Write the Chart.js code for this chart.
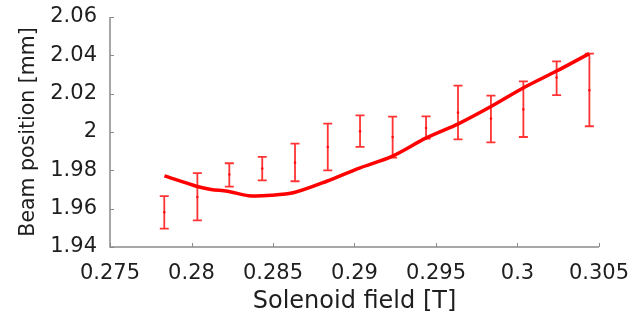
<!DOCTYPE html>
<html>
<head>
<meta charset="utf-8">
<script src="https://cdn.jsdelivr.net/npm/chart.js@4"></script>
<style>
  html, body { margin: 0; padding: 0; background: #fff; }
  #wrap { width: 636px; height: 324px; }
</style>
</head>
<body>
<div id="wrap"><canvas id="chart" width="636" height="324"></canvas></div>
<script>
// measured points with error bars
const fieldT = [0.27833, 0.28036, 0.28232, 0.28434, 0.28635, 0.28836, 0.29034, 0.29234, 0.29439, 0.29635, 0.29837, 0.30036, 0.30240, 0.30441];
const meanPos = [1.9581, 1.9661, 1.9778, 1.9809, 1.9840, 1.9922, 2.0004, 1.9974, 2.0021, 2.0101, 2.0070, 2.0118, 2.0284, 2.0218];
const errLow  = [1.9496, 1.9539, 1.9715, 1.9748, 1.9743, 1.9800, 1.9922, 1.9866, 1.9965, 1.9962, 1.9946, 1.9974, 2.0192, 2.0030];
const errHigh = [1.9665, 1.9785, 1.9837, 1.9870, 1.9939, 2.0044, 2.0087, 2.0080, 2.0082, 2.0242, 2.0190, 2.0264, 2.0369, 2.0409];

// fitted curve
const fitField = [0.27834, 0.2803, 0.2812, 0.2822, 0.2835, 0.2849, 0.2863, 0.2883, 0.2903, 0.2923, 0.2944, 0.2964, 0.2984, 0.3004, 0.3024, 0.3044];
const fitPos   = [1.9771, 1.9717, 1.9700, 1.9691, 1.9668, 1.9670, 1.9684, 1.9743, 1.9812, 1.9873, 1.9969, 2.0044, 2.0134, 2.0232, 2.0318, 2.0409];

const xTicks = [0.275, 0.28, 0.285, 0.29, 0.295, 0.3, 0.305];
const yTicks = [1.94, 1.96, 1.98, 2, 2.02, 2.04, 2.06];

const AXIS_COLOR = '#8a8a8a';
const TEXT_COLOR = '#1e1e1e';
const FONT = 'DejaVu Sans';

const fmt = v => String(parseFloat(Number(v).toFixed(4)));

// error bars (drawn under the line)
const errorBars = {
    id: 'errorBars',
    beforeDatasetsDraw(chart) {
        const { ctx, scales: { x, y } } = chart;
        ctx.save();
        ctx.strokeStyle = 'rgba(255,0,0,0.8)';
        ctx.lineWidth = 1.8;
        const cap = 4.5;
        fieldT.forEach((f, i) => {
            const px = x.getPixelForValue(f);
            const lo = y.getPixelForValue(errLow[i]);
            const hi = y.getPixelForValue(errHigh[i]);
            ctx.beginPath();
            ctx.moveTo(px, lo); ctx.lineTo(px, hi);
            ctx.moveTo(px - cap, lo); ctx.lineTo(px + cap, lo);
            ctx.moveTo(px - cap, hi); ctx.lineTo(px + cap, hi);
            ctx.stroke();
        });
        ctx.restore();
    }
};

// axis lines with inward tick marks
const axesBox = {
    id: 'axesBox',
    afterDraw(chart) {
        const { ctx, chartArea: a, scales: { x, y } } = chart;
        ctx.save();
        ctx.strokeStyle = AXIS_COLOR;
        ctx.lineWidth = 1.5;
        ctx.beginPath();
        ctx.moveTo(a.left, a.top); ctx.lineTo(a.left, a.bottom); ctx.lineTo(a.right, a.bottom);
        ctx.stroke();
        ctx.lineWidth = 1;
        ctx.beginPath();
        x.ticks.forEach(t => {
            const px = Math.round(x.getPixelForValue(t.value)) + 0.5;
            ctx.moveTo(px, a.bottom); ctx.lineTo(px, a.bottom - 4);
        });
        y.ticks.forEach(t => {
            const py = Math.round(y.getPixelForValue(t.value)) + 0.5;
            ctx.moveTo(a.left, py); ctx.lineTo(a.left + 4, py);
        });
        ctx.stroke();
        ctx.restore();
    }
};

new Chart(document.getElementById('chart'), {
    type: 'scatter',
    data: {
        datasets: [
            {
                label: 'fit',
                data: fitField.map((f, i) => ({ x: f, y: fitPos[i] })),
                showLine: true,
                borderColor: '#ff0000',
                borderWidth: 3.5,
                pointRadius: 0,
                tension: 0.3,
                order: 1
            },
            {
                label: 'measured',
                data: fieldT.map((f, i) => ({ x: f, y: meanPos[i] })),
                pointRadius: 1.3,
                pointBackgroundColor: 'rgba(255,0,0,0.8)',
                pointBorderWidth: 0,
                order: 2
            }
        ]
    },
    options: {
        responsive: false,
        animation: false,
        layout: { padding: { left: 0, right: 37, top: 17, bottom: 0 } },
        plugins: { legend: { display: false }, tooltip: { enabled: false } },
        scales: {
            x: {
                type: 'linear',
                min: 0.275,
                max: 0.305,
                afterBuildTicks: s => { s.ticks = xTicks.map(v => ({ value: v })); },
                afterFit: s => { s.height = 77; s.paddingLeft = 0; s.paddingRight = 0; },
                grid: { display: false, drawTicks: false },
                border: { display: false },
                ticks: {
                    padding: 14,
                    color: TEXT_COLOR,
                    font: { family: FONT, size: 21 },
                    maxRotation: 0,
                    callback: fmt
                },
                title: {
                    display: true,
                    text: 'Solenoid field [T]',
                    color: TEXT_COLOR,
                    font: { family: FONT, size: 24 },
                    padding: { top: 0, bottom: 8 }
                }
            },
            y: {
                type: 'linear',
                min: 1.94,
                max: 2.06,
                afterBuildTicks: s => { s.ticks = yTicks.map(v => ({ value: v })); },
                afterFit: s => { s.width = 110; s.paddingTop = 0; s.paddingBottom = 0; },
                grid: { display: false, drawTicks: false },
                border: { display: false },
                ticks: {
                    padding: 13,
                    color: TEXT_COLOR,
                    font: { family: FONT, size: 21 },
                    callback: fmt
                },
                title: {
                    display: true,
                    text: 'Beam position [mm]',
                    color: TEXT_COLOR,
                    font: { family: FONT, size: 20.5 },
                    padding: { top: 16, bottom: 0 }
                }
            }
        }
    },
    plugins: [errorBars, axesBox]
});
</script>
</body>
</html>
